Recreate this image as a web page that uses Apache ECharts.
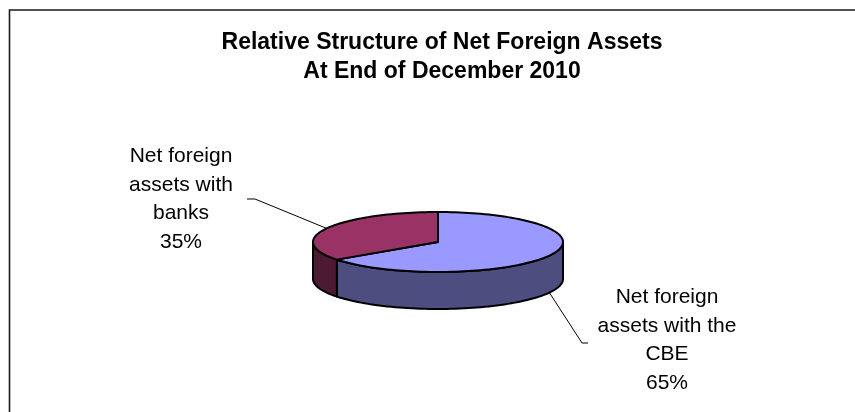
<!DOCTYPE html>
<html>
<head>
<meta charset="utf-8">
<script src="https://cdn.jsdelivr.net/npm/echarts@6/dist/echarts.min.js"></script>
<style>
  html, body { margin: 0; padding: 0; background: #ffffff; }
  #chart { width: 855px; height: 412px; }
</style>
</head>
<body>
<div id="chart"></div>
<script>
// Slice names (wrapped as shown beside the pie) and their shares in percent
const categories = ['Net foreign\nassets with the\nCBE', 'Net foreign\nassets with\nbanks'];
const shares = [65, 35];

// Slice colours: lit top face and shaded rim
const topColors = ['#9999FF', '#993366'];
const sideColors = ['#4D4D80', '#4D1A33'];

// Tilted-disc geometry
const CX = 438, CY = 242, RX = 125, RY = 30, DEPTH = 37;
const START = 90; // degrees, first slice starts at 12 o'clock and runs clockwise

// Label placement: centre of the text block, plus the leader elbow
const labelLayout = [
  { x: 667, y: 283, elbow: [[582, 343], [588, 343]], onBase: true },
  { x: 181, y: 142, elbow: [[255, 199], [247, 199]], onBase: false }
];

const total = shares.reduce((a, b) => a + b, 0);

function rim(a, dy) {
  const r = a * Math.PI / 180;
  return [CX + RX * Math.cos(r), CY - RY * Math.sin(r) + (dy || 0)];
}

function arcPoints(a0, a1, dy) {
  const pts = [];
  const n = Math.max(2, Math.ceil(Math.abs(a1 - a0) / 2));
  for (let k = 0; k <= n; k++) pts.push(rim(a0 + (a1 - a0) * k / n, dy));
  return pts;
}

function renderItem(params, api) {
  const i = params.dataIndex;
  let before = 0;
  for (let j = 0; j < i; j++) before += shares[j];
  const hi = START - before / total * 360;          // slice runs clockwise from hi to lo
  const lo = START - (before + api.value(0)) / total * 360;
  const children = [];

  // Visible rim: parts of the slice lying in the front half (angles in (-180, 0) mod 360)
  for (let k = -2; k <= 1; k++) {
    const s = Math.max(lo, -180 + 360 * k);
    const e = Math.min(hi, 360 * k);
    if (e > s) {
      const top = arcPoints(s, e, 0);
      const bottom = arcPoints(e, s, DEPTH);
      children.push({
        type: 'polygon',
        shape: { points: top.concat(bottom) },
        style: { fill: sideColors[i], stroke: '#000', lineWidth: 2, lineJoin: 'round' }
      });
    }
  }

  // Top face
  children.push({
    type: 'polygon',
    shape: { points: [[CX, CY]].concat(arcPoints(hi, lo, 0)) },
    style: { fill: topColors[i], stroke: '#000', lineWidth: 2, lineJoin: 'round' }
  });

  // Leader line from the slice's middle to its label
  const lay = labelLayout[i];
  const mid = (hi + lo) / 2;
  const anchor = rim(mid, lay.onBase ? DEPTH : 0);
  children.push({
    type: 'polyline',
    shape: { points: [anchor].concat(lay.elbow) },
    style: { stroke: '#000', lineWidth: 1, fill: null }
  });

  // Label text
  const pct = Math.round(api.value(0) / total * 100) + '%';
  children.push({
    type: 'text',
    x: lay.x,
    y: lay.y,
    style: {
      text: categories[i] + '\n' + pct,
      fill: '#000',
      font: '21px "Liberation Sans", Arial, sans-serif',
      align: 'center',
      verticalAlign: 'top',
      lineHeight: 28.5
    }
  });

  return { type: 'group', children };
}

const chart = echarts.init(document.getElementById('chart'), null, { renderer: 'canvas' });
chart.setOption({
  backgroundColor: '#ffffff',
  animation: false,
  title: {
    text: 'Relative Structure of Net Foreign Assets\nAt End of December 2010',
    left: 437,
    top: 23,
    textAlign: 'center',
    textStyle: {
      fontFamily: '"Liberation Sans", Arial, sans-serif',
      fontWeight: 'bold',
      fontSize: 23,
      lineHeight: 29,
      color: '#000'
    }
  },
  graphic: [{
    type: 'rect',
    shape: { x: 9.5, y: 10, width: 900, height: 500 },
    style: { fill: null, stroke: '#1a1a1a', lineWidth: 1.6 },
    silent: true
  }],
  series: [{
    type: 'custom',
    coordinateSystem: 'none',
    renderItem: renderItem,
    data: shares.map((v, i) => ({ value: v, name: categories[i] }))
  }]
});
</script>
</body>
</html>
